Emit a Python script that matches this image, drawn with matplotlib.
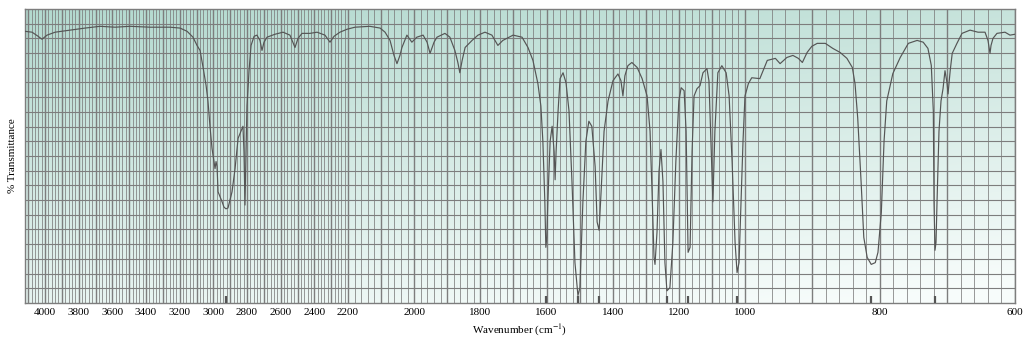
import numpy as np
import matplotlib
matplotlib.use('Agg')
import matplotlib.pyplot as plt

plt.rcParams['font.family'] = ['Liberation Serif', 'DejaVu Serif']
plt.rcParams['mathtext.fontset'] = 'stix'

# spectrum: wavenumber (cm-1) and % transmittance
wavenumber = [4119, 4077, 4041, 4018, 3988, 3940, 3851, 3762, 3673, 3584, 3495, 3376, 3257, 3198,
              3156, 3121, 3097, 3079, 3061, 3043, 3032, 3020, 3008, 2996, 2990, 2984, 2978, 2972,
              2960, 2948, 2937, 2925, 2913, 2901, 2889, 2871, 2853, 2836, 2824, 2818, 2812, 2806,
              2800, 2788, 2776, 2758, 2741, 2723, 2711, 2699, 2681, 2634, 2586, 2545, 2515, 2497,
              2473, 2426, 2384, 2337, 2307, 2283, 2248, 2206,
              2179, 2134, 2103, 2088, 2073, 2061, 2052, 2043, 2037, 2022, 2007, 1992, 1973, 1961,
              1952, 1940, 1931, 1907, 1892, 1877, 1868, 1862, 1855, 1846, 1825, 1807, 1786, 1765,
              1747, 1732, 1701, 1674, 1656, 1641, 1626, 1617, 1611, 1605, 1602, 1599, 1596, 1589,
              1583, 1577, 1574, 1571, 1565, 1559, 1550, 1541, 1532, 1523, 1514, 1505, 1499, 1490,
              1481, 1472, 1463, 1453, 1447, 1441, 1435, 1426, 1414, 1399, 1384, 1375, 1369, 1363,
              1354, 1342, 1326, 1311, 1296, 1287, 1281, 1275, 1272, 1266, 1260, 1254, 1248, 1242,
              1236, 1227, 1218, 1209, 1200, 1193, 1184, 1178, 1172, 1166, 1160, 1154, 1145, 1136,
              1127, 1115, 1109, 1103, 1097, 1091, 1082, 1070, 1057, 1048, 1039, 1030, 1024, 1018,
              1012, 1006, 1000,
              995, 990, 978, 967, 955, 948, 938, 929, 921, 915, 908, 901, 893, 881, 870, 859, 849,
              841, 837, 833, 828, 824, 819, 813, 807, 803, 798, 794, 790, 785, 781, 770, 758, 745,
              736, 729, 724, 721, 720, 718.5, 717, 715.5, 712.6, 709.6, 706.6, 703.7, 700.7, 699.2,
              696, 693, 686, 678.5, 666.6, 654.8, 644.4, 640, 637, 635.5, 632.6, 626.7, 614.8,
              607.4, 600]
transmittance = [92.4, 92.1, 90.7, 89.7, 91.1, 92.1, 92.8, 93.5, 94.1, 93.8, 94.1, 93.8, 93.8, 93.5,
                 92.4, 90.4, 87.6, 85.9, 80.1, 73.9, 68.7, 60.1, 52.6, 48.1, 45.7, 48.1, 46.4, 37.8,
                 36.1, 34.4, 32.6, 32.0, 32.3, 35.0, 37.8, 45.7, 56.0, 58.4, 60.1, 51.5, 33.3, 51.5,
                 67.0, 79.0, 87.6, 90.7, 91.1, 89.3, 85.9, 88.7, 90.4, 91.4, 92.1, 91.1, 86.9, 90.0,
                 91.7, 91.7, 92.1, 91.1, 88.7, 90.7, 92.1, 93.1,
                 93.8, 94.1, 93.5, 92.1, 89.3, 84.2, 81.4, 84.2, 86.9, 91.1, 88.7, 90.4, 91.1, 88.7,
                 84.9, 88.7, 90.4, 91.7, 90.4, 85.9, 81.8, 78.3, 82.5, 86.9, 89.3, 91.1, 92.1, 91.1,
                 87.6, 89.3, 91.1, 90.4, 86.9, 82.5, 74.6, 67.0, 55.0, 34.4, 18.9, 22.3, 34.4, 55.0,
                 60.1, 51.5, 41.9, 51.5, 65.3, 76.3, 78.3, 74.9, 65.3, 41.2, 13.7, 2.5, 5.2, 34.4,
                 55.0, 61.8, 60.1, 46.4, 27.5, 24.7, 37.8, 58.4, 68.7, 75.6, 77.9, 75.6, 70.4, 77.3,
                 80.7, 81.8, 80.1, 76.3, 70.4, 58.4, 37.8, 15.5, 13.1, 24.1, 44.7, 52.2, 41.2, 13.7,
                 4.1, 5.2, 20.6, 48.1, 68.7, 73.2, 72.2, 58.4, 17.2, 18.9, 51.5, 70.4, 72.9, 73.9,
                 78.3, 79.7, 75.6, 55.0, 34.4, 58.4, 78.3, 80.7, 78.3, 70.4, 48.1, 20.6, 10.3, 13.7,
                 34.4, 55.0, 70.4,
                 74.6, 76.6, 76.3, 82.5, 83.2, 81.4, 83.5, 84.2, 83.2, 81.8, 85.2, 87.3, 88.3, 88.3,
                 86.6, 85.2, 83.2, 80.1, 74.6, 62.9, 41.2, 22.3, 15.5, 13.1, 13.7, 17.2, 30.9, 55.0,
                 68.7, 73.9, 78.0, 83.5, 88.3, 89.3, 88.7, 86.6, 80.8, 65.3, 34.4, 17.9, 20.6, 34.4,
                 58.4, 68.7, 72.9, 79.0, 74.9, 71.1, 79.0, 84.9, 88.3, 91.7, 92.8, 92.1, 92.1, 89.3,
                 84.9, 87.6, 90.0, 91.7, 92.1, 91.1, 91.4]

# small peak markers along the bottom edge
peak_marks = [2925, 1602, 1505, 1441, 1236, 1172, 1024, 813, 718]

tick_labels = [4000, 3800, 3600, 3400, 3200, 3000, 2800, 2600, 2400, 2200,
               2000, 1800, 1600, 1400, 1200, 1000, 800, 600]

# piecewise linear wavenumber axis (scale doubles at 2200 and at 1000)
wn_pts = [0, 600, 1000, 2200, 4000, 6000]
u_pts = [-405, 0, 270, 667, 970, 1306.7]


def forward(w):
    return np.interp(w, wn_pts, u_pts)


def inverse(u):
    return np.interp(u, u_pts, wn_pts)


fig = plt.figure(figsize=(10.24, 3.45), dpi=100)
ax = fig.add_axes([0.0244, 0.122, 0.9668, 0.852])
ax.set_xscale('function', functions=(forward, inverse))
ax.set_xlim(4119, 600)
ax.set_ylim(0, 100)

# background gradient
h = np.linspace(0, 1, 200)[None, :]
v = np.linspace(0, 1, 100)[:, None]
t = np.clip(0.75 * v + 0.3 * h, 0, 1)
top = np.array([0.70, 0.85, 0.81])
bot = np.array([0.97, 0.99, 0.985])
img = top[None, None, :] * (1 - t[..., None]) + bot[None, None, :] * t[..., None]
ax.imshow(img, extent=[0, 1, 0, 1], transform=ax.transAxes, aspect='auto', zorder=0)

# grid
for w in np.arange(600, 4120, 20):
    heavy = w % 100 == 0
    ax.axvline(w, color='#7d7d7d', lw=1.0 if heavy else 0.55, zorder=1)
for p in np.arange(5, 100, 5):
    ax.axhline(p, color='#7d7d7d', lw=0.8, zorder=1)

ax.plot(wavenumber, transmittance, color='#555555', lw=0.85, zorder=3)
ax.vlines(peak_marks, 0, 2.5, color='#555555', lw=1.6, zorder=3)

ax.set_xticks(tick_labels)
ax.set_xticklabels([str(v) for v in tick_labels], fontsize=8)
ax.minorticks_off()
ax.set_yticks([])
ax.tick_params(axis='x', length=0, pad=4)
for s in ax.spines.values():
    s.set_color('#7d7d7d')
    s.set_linewidth(1.0)

ax.set_xlabel('Wavenumber (cm$^{-1}$)', fontsize=8, labelpad=4)
ax.set_ylabel('% Transmittance', fontsize=8, labelpad=6)

fig.savefig('out.png', dpi=100)
